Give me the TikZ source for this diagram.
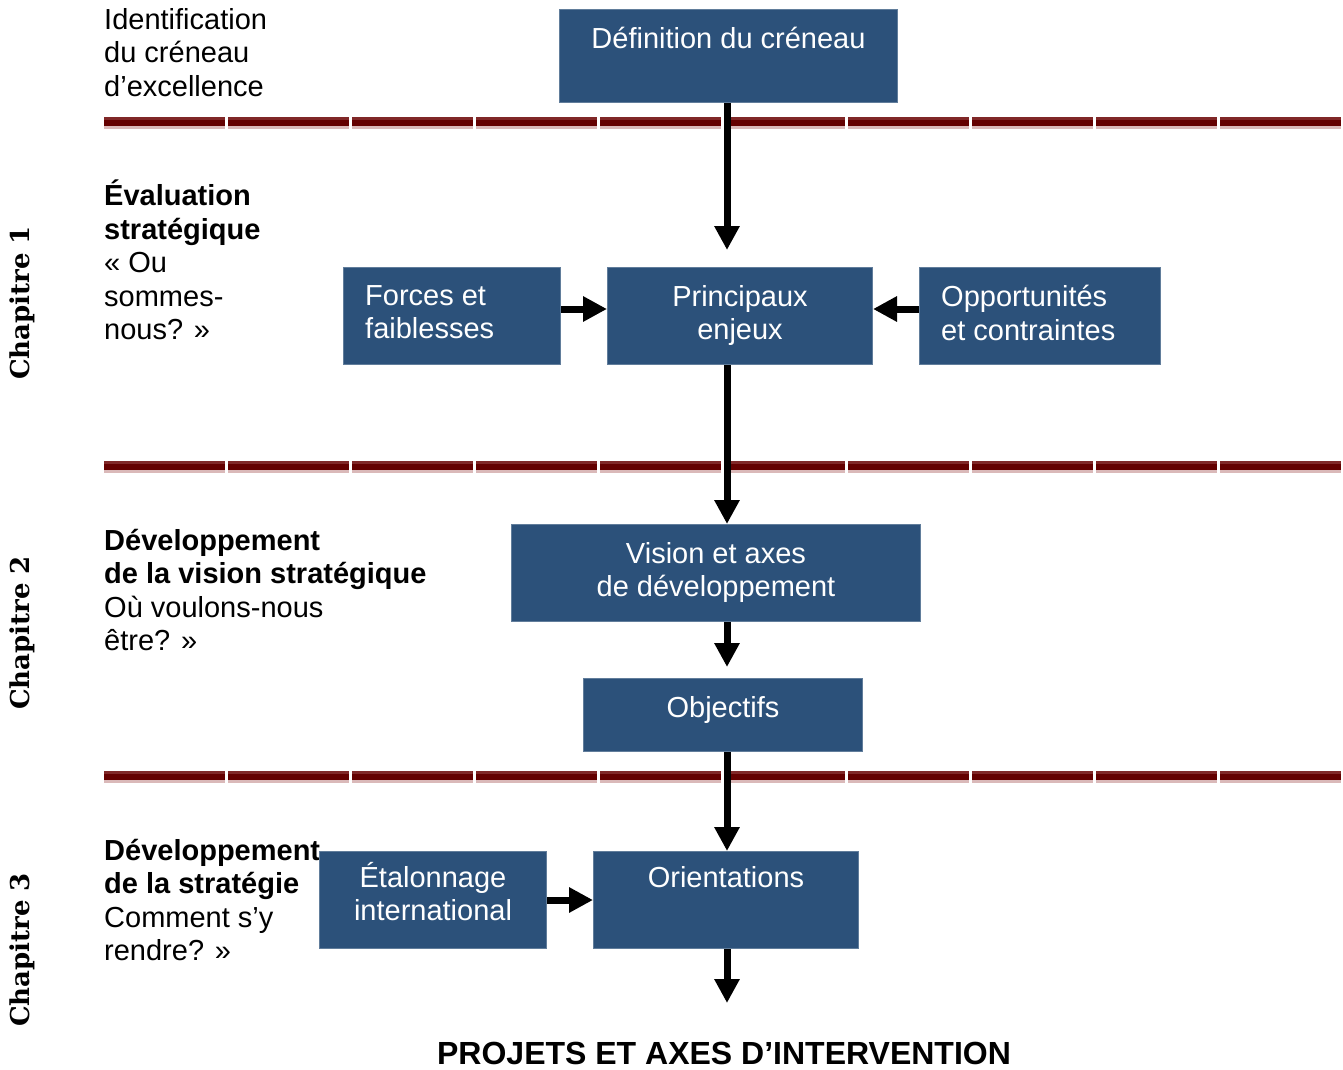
\documentclass[tikz,border=0pt]{standalone}
\usepackage{fontspec}
\setmainfont{Liberation Sans}
\newfontfamily\chapfont{DejaVu Serif}
\usetikzlibrary{arrows.meta}
\definecolor{boxblue}{RGB}{44,81,122}
\definecolor{bardark}{RGB}{100,0,0}
\definecolor{barlight}{RGB}{128,40,40}
\definecolor{barpink}{RGB}{218,185,185}
\tikzstyle{blk} = [rectangle, 
anchor=north west, 
inner sep=0pt,
draw=boxblue!75!white, 
line width=1pt,
fill=boxblue]
\tikzstyle{btxt} = [text=white, 
align=center, 
inner sep=0pt,
font=\fontsize{29}{33.5}\selectfont]
\tikzstyle{side} = [anchor=north west, 
align=left, 
inner sep=0pt,
font=\fontsize{29}{33.5}\selectfont]
\tikzstyle{chap} = [rotate=90, inner sep=0pt, font=\chapfont\bfseries\fontsize{26}{30}\selectfont]
\tikzstyle{arr} = [-{Triangle[width=24pt,length=24pt]}, line width=7pt]

\begin{document}
\begin{tikzpicture}[x=1pt, y=-1pt]
\useasboundingbox (0,0) rectangle (1343,1070);

% separateurs
\foreach \y in {117,461,771} {
  \foreach \i in {0,...,9} {
    \fill[barlight] (104+124*\i,\y) rectangle ++(121,3);
    \fill[bardark] (104+124*\i,\y+3) rectangle ++(121,6);
    \fill[barpink] (104+124*\i,\y+9) rectangle ++(121,3);
  }
}

% chapitres
\node (ch1) [chap] at (22,303) {Chapitre 1};
\node (ch2) [chap] at (22,633) {Chapitre 2};
\node (ch3) [chap] at (22,950) {Chapitre 3};

% textes de gauche
\node (sec1) [side] at (104,8) {Identification\\du créneau\\d’excellence};
\node (sec2) [side] at (104,180) {\textbf{Évaluation}\\\textbf{stratégique}\\« Ou\\sommes-\\nous? »};
\node (sec3) [side] at (104,529) {\textbf{Développement}\\\textbf{de la vision stratégique}\\Où voulons-nous\\être? »};
\node (sec4) [side] at (104,839) {\textbf{Développement}\\\textbf{de la stratégie}\\Comment s’y\\rendre? »};

% boites
\node (def) [blk, minimum width=338pt, minimum height=93pt] at (559,9) {};
\node (deftxt) [btxt, anchor=north] at (def.north |- 0,27) {Définition du créneau};

\node (forces) [blk, minimum width=217pt, minimum height=97pt] at (343,267) {};
\node (forcestxt) [btxt, anchor=north west, align=left] at (365,285) {Forces et\\faiblesses};
\node (enjeux) [blk, minimum width=265pt, minimum height=97pt] at (607,267) {};
\node (enjeuxtxt) [btxt, anchor=north] at (enjeux.north |- 0,285) {Principaux\\enjeux};
\node (opport) [blk, minimum width=241pt, minimum height=97pt] at (919,267) {};
\node (opporttxt) [btxt, anchor=north west, align=left] at (941,285) {Opportunités\\et contraintes};

\node (vision) [blk, minimum width=409pt, minimum height=97pt] at (511,524) {};
\node (visiontxt) [btxt, anchor=north] at (vision.north |- 0,542) {Vision et axes\\de développement};
\node (obj) [blk, minimum width=279pt, minimum height=73pt] at (583,678) {};
\node (objtxt) [btxt, anchor=north] at (obj.north |- 0,696) {Objectifs};

\node (etal) [blk, minimum width=227pt, minimum height=97pt] at (319,851) {};
\node (etaltxt) [btxt, anchor=north] at (etal.north |- 0,862) {Étalonnage\\international};
\node (orient) [blk, minimum width=265pt, minimum height=97pt] at (593,851) {};
\node (orienttxt) [btxt, anchor=north] at (orient.north |- 0,866) {Orientations};

\coordinate (fin) at (727,1003);
\node (projets) [anchor=north, inner sep=0pt, font=\bfseries\fontsize{32}{36}\selectfont] at (724,1042) {PROJETS ET AXES D’INTERVENTION};

% fleches
\draw[arr] (727,0 |- def.south) -- ([yshift=17pt]fin |- enjeux.north);
\draw[arr] (fin |- enjeux.south) -- (fin |- vision.north);
\draw[arr] (fin |- vision.south) -- ([yshift=11pt]fin |- obj.north);
\draw[arr] (fin |- obj.south) -- (fin |- orient.north);
\draw[arr] (fin |- orient.south) -- (fin);
\draw[arr] ([yshift=7pt]forces.east) -- ([yshift=7pt]enjeux.west);
\draw[arr] ([yshift=7pt]opport.west) -- ([yshift=7pt]enjeux.east);
\draw[arr] (etal.east) -- (orient.west);

\end{tikzpicture}
\end{document}
